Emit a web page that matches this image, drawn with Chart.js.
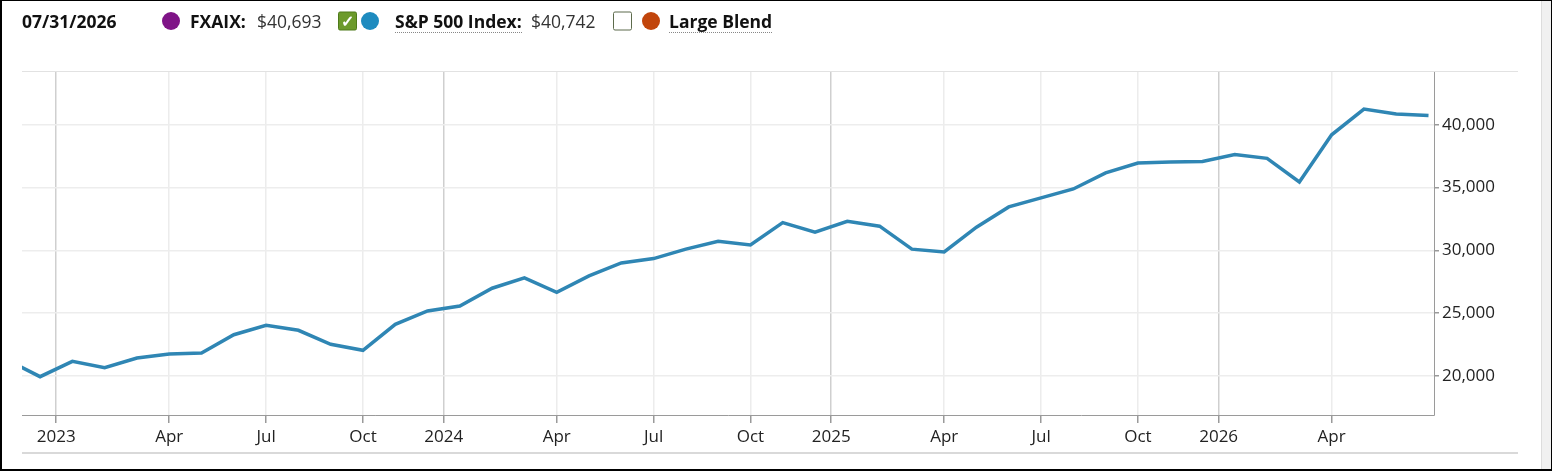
<!DOCTYPE html>
<html>
<head>
<meta charset="utf-8">
<script src="https://cdn.jsdelivr.net/npm/chart.js@4.4.1/dist/chart.umd.min.js"></script>
<style>
  html, body { margin: 0; padding: 0; background: #fff; }
  #wrap { position: relative; width: 1552px; height: 471px; overflow: hidden; font-family: "Open Sans", sans-serif; color: #222; }
  #chartBox { position: absolute; left: 0; top: 0; width: 1552px; height: 471px; }
  .lg { position: absolute; top: 21px; transform: translateY(-50%); white-space: nowrap; line-height: 22px; }
  .b { font-weight: 700; font-size: 17.5px; color: #111; }
  .v { font-size: 17.5px; color: #333; }
  .dot { width: 18px; height: 18px; border-radius: 50%; }
  .box { width: 19px; height: 19px; border-radius: 2px; box-sizing: border-box; }
  .dotted { border-bottom: 1px dotted #888; line-height: 21px; top: 22px; }
  .frame { position: absolute; left: 22px; width: 1496px; height: 0; }
  #strip { position: absolute; left: 1541px; top: 0; width: 11px; height: 471px; background: #f0f0f0; border-left: 1px solid #dcdcdc; box-sizing: border-box; }
  #border { position: absolute; left: 0; top: 0; width: 1552px; height: 471px; box-sizing: border-box; border: 1px solid #000; border-left-width: 2px; border-bottom-width: 2px; pointer-events: none; }
</style>
</head>
<body>
<div id="wrap">
  <div id="chartBox"><canvas id="growth-chart"></canvas></div>

  <div class="lg b" style="left:22px">07/31/2026</div>
  <div class="lg dot" style="left:162px;background:#7f1487"></div>
  <div class="lg b" style="left:190px">FXAIX:</div>
  <div class="lg v" style="left:257px">$40,693</div>
  <div class="lg box" style="left:338px;background:#6c9a2b;border:1px solid #4e7a1a;color:#fff;font-size:16px;font-weight:700;text-align:center;line-height:17px">&#10003;</div>
  <div class="lg dot" style="left:361px;background:#1e8bbf"></div>
  <div class="lg b dotted" style="left:395px">S&amp;P 500 Index:</div>
  <div class="lg v" style="left:531px">$40,742</div>
  <div class="lg box" style="left:613px;background:#fff;border:1px solid #5d6b4c"></div>
  <div class="lg dot" style="left:642px;background:#c1450b"></div>
  <div class="lg b dotted" style="left:669px">Large Blend</div>

  <div class="frame" style="top:71px;border-top:1px solid #e2e2e2"></div>
  <div class="frame" style="top:452px;border-top:2px solid #d9d9d9"></div>
  <div id="strip"></div>
  <div id="border"></div>
</div>

<script>
// month-end values, 11/2022 .. 07/2026 (S&P 500 Index, growth of investment)
let months = ['11/2022','12/2022',
  '01/2023','02/2023','03/2023','04/2023','05/2023','06/2023','07/2023','08/2023','09/2023','10/2023','11/2023','12/2023',
  '01/2024','02/2024','03/2024','04/2024','05/2024','06/2024','07/2024','08/2024','09/2024','10/2024','11/2024','12/2024',
  '01/2025','02/2025','03/2025','04/2025','05/2025','06/2025','07/2025','08/2025','09/2025','10/2025','11/2025','12/2025',
  '01/2026','02/2026','03/2026','04/2026','05/2026','06/2026','07/2026'];

let sp500 = [21250, 19950,
  21170, 20660, 21430, 21750, 21830, 23290, 24040, 23640, 22530, 22050, 24120, 25180,
  25580, 26990, 27810, 26670, 27970, 29000, 29350, 30100, 30730, 30440, 32210, 31450,
  32320, 31930, 30100, 29880, 31850, 33460, 34180, 34890, 36170, 36960, 37040, 37070,
  37630, 37330, 35450, 39200, 41250, 40850, 40742];

// x tick positions are month indexes into the arrays above
let xTickAt     = [1.5, 5, 8, 11, 13.5, 17, 20, 23, 25.5, 29, 32, 35, 37.5, 41];
let xTickLabels = ['2023','Apr','Jul','Oct','2024','Apr','Jul','Oct','2025','Apr','Jul','Oct','2026','Apr'];
let yTicks = [20000, 25000, 30000, 35000, 40000];

let points = [];
sp500.forEach((v, i) => points.push({x: i, y: v}));

let tickFont = {family: 'Open Sans', size: 17};

const ctx = document.getElementById('growth-chart').getContext('2d');

let myChart = new Chart(ctx, {
    type: 'line',
    data: {
        datasets: [{
            label: 'S&P 500 Index',
            data: points,
            borderColor: '#2f86b4',
            backgroundColor: '#2f86b4',
            borderWidth: 3.5,
            pointRadius: 0,
            tension: 0
        }]
    },
    options: {
        responsive: true,
        maintainAspectRatio: false,
        animation: false,
        layout: { padding: { left: 22, top: 72, right: 0, bottom: 0 } },
        plugins: { legend: { display: false }, tooltip: { enabled: false } },
        scales: {
            x: {
                type: 'linear',
                min: 0.44,
                max: 44.17,
                afterBuildTicks: s => { s.ticks = xTickAt.map(v => ({value: v})); },
                afterFit: s => { s.height = 56; },
                border: { color: '#9a9a9a', width: 1 },
                grid: {
                    color: c => (c.tick && /^\d{4}$/.test(xTickLabels[xTickAt.indexOf(c.tick.value)])) ? '#cfcfcf' : '#ececec',
                    lineWidth: 1.5,
                    tickLength: 8,
                    tickColor: '#9a9a9a',
                    drawTicks: true
                },
                ticks: {
                    autoSkip: false,
                    maxRotation: 0,
                    padding: 4,
                    color: '#222',
                    font: tickFont,
                    callback: (v, i) => xTickLabels[i]
                }
            },
            y: {
                position: 'right',
                min: 16900,
                max: 44200,
                afterBuildTicks: s => { s.ticks = yTicks.map(v => ({value: v})); },
                afterFit: s => { s.width = 118; },
                border: { color: '#9a9a9a', width: 1 },
                grid: {
                    color: '#ededed',
                    lineWidth: 1.5,
                    tickLength: 5,
                    tickColor: '#9a9a9a'
                },
                ticks: {
                    padding: 3,
                    color: '#222',
                    font: tickFont,
                    callback: v => v.toLocaleString('en-US')
                }
            }
        }
    }
});
</script>
</body>
</html>
